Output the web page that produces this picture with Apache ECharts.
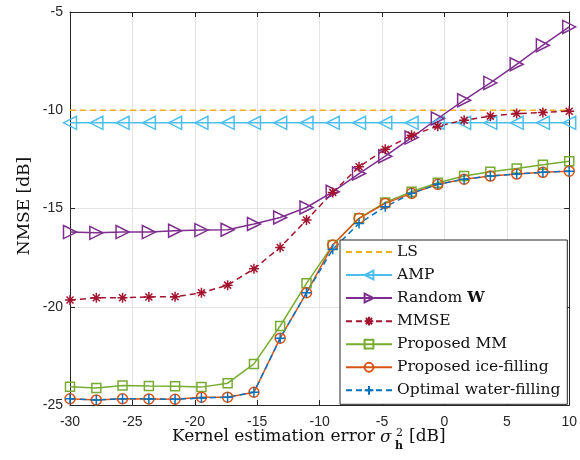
<!DOCTYPE html>
<html>
<head>
<meta charset="utf-8">
<script src="https://cdn.jsdelivr.net/npm/echarts@6/dist/echarts.min.js"></script>
<style>
  html, body { margin: 0; padding: 0; background: #fff; }
  #chart { width: 580px; height: 460px; }
</style>
</head>
<body>
<div id="chart"></div>
<script>
// kernel estimation error (dB), 20 points
const xValues = [-30, -27.89, -25.79, -23.68, -21.58, -19.47, -17.37, -15.26, -13.16, -11.05,
  -8.95, -6.84, -4.74, -2.63, -0.53, 1.58, 3.68, 5.79, 7.89, 10];

const lsVals = [-10, -10, -10, -10, -10, -10, -10, -10, -10, -10,
  -10, -10, -10, -10, -10, -10, -10, -10, -10, -10];
const ampVals = [-10.64, -10.64, -10.64, -10.64, -10.64, -10.64, -10.64, -10.64, -10.64, -10.64,
  -10.64, -10.64, -10.64, -10.64, -10.64, -10.64, -10.64, -10.64, -10.64, -10.64];
const randomWVals = [-16.2, -16.24, -16.2, -16.2, -16.13, -16.1, -16.08, -15.79, -15.46, -14.95,
  -14.15, -13.22, -12.34, -11.39, -10.42, -9.49, -8.61, -7.66, -6.69, -5.76];
const mmseVals = [-19.66, -19.54, -19.54, -19.5, -19.49, -19.29, -18.9, -18.07, -16.98, -15.59,
  -14.18, -12.88, -11.98, -11.27, -10.81, -10.51, -10.3, -10.17, -10.11, -10.05];
const mmVals = [-24.07, -24.13, -24.01, -24.03, -24.04, -24.09, -23.89, -22.91, -20.98, -18.81,
  -16.86, -15.5, -14.69, -14.15, -13.69, -13.35, -13.13, -12.96, -12.77, -12.59];
const iceVals = [-24.68, -24.74, -24.68, -24.69, -24.71, -24.6, -24.6, -24.35, -21.6, -19.29,
  -16.86, -15.5, -14.74, -14.23, -13.77, -13.51, -13.35, -13.25, -13.16, -13.1];
const waterVals = [-24.68, -24.74, -24.68, -24.69, -24.71, -24.65, -24.6, -24.35, -21.6, -19.29,
  -17.08, -15.76, -14.91, -14.23, -13.77, -13.51, -13.35, -13.25, -13.16, -13.1];

const xTicks = [-30, 10, 5];   // min, max, step
const yTicks = [-25, -5, 5];

const axisCol = '#262626';
const serif = 'DejaVu Serif';
const sans = 'Liberation Sans';

const PLUS = 'path://M0,-1L0,1M-1,0L1,0';
const STAR = 'path://M0,-1L0,1M-1,0L1,0M-0.7,-0.7L0.7,0.7M-0.7,0.7L0.7,-0.7';

function pairs(ys) {
  return xValues.map((x, i) => [x, ys[i]]);
}

function mkSeries(name, ys, color, opts) {
  return {
    name: name,
    type: 'line',
    data: pairs(ys),
    symbol: opts.symbol || 'none',
    symbolSize: opts.size || 10,
    symbolRotate: opts.rotate || 0,
    showSymbol: !!opts.symbol,
    lineStyle: { color: color, width: 1.5, type: opts.dash ? [6, 4] : 'solid' },
    itemStyle: { color: 'rgba(255,255,255,0)', borderColor: color, borderWidth: 1.5 },
    emphasis: { disabled: true },
    animation: false
  };
}

const chart = echarts.init(document.getElementById('chart'));

const noMark = { color: 'rgba(0,0,0,0)', borderColor: 'rgba(0,0,0,0)', borderWidth: 0 };

const option = {
  animation: false,
  grid: { left: 70, right: 10, top: 12, bottom: 55 },
  legend: {
    orient: 'vertical',
    left: 340,
    top: 240,
    itemWidth: 46,
    itemHeight: 11,
    itemGap: 7.05,
    padding: [4, 7, 6, 5],
    borderColor: axisCol,
    borderWidth: 1,
    backgroundColor: '#fff',
    textStyle: {
      fontFamily: serif, fontSize: 15.5, color: '#111', lineHeight: 15.5,
      rich: { b: { fontFamily: serif, fontSize: 15.5, fontWeight: 'bold', color: '#111', lineHeight: 15.5 } }
    },
    formatter: function (n) { return n === 'Random W' ? 'Random {b|W}' : n; },
    data: [{ name: 'LS', itemStyle: noMark }, 'AMP', 'Random W', 'MMSE', 'Proposed MM',
      'Proposed ice-filling', 'Optimal water-filling']
  },
  xAxis: [{
    type: 'value', min: xTicks[0], max: xTicks[1], interval: xTicks[2], position: 'bottom',
    axisLine: { show: true, onZero: false, lineStyle: { color: axisCol, width: 1 } },
    axisTick: { show: true, inside: true, length: 5, lineStyle: { color: axisCol } },
    axisLabel: { color: axisCol, fontFamily: sans, fontSize: 14, margin: 10 },
    splitLine: { show: true, lineStyle: { color: '#e3e3e3', width: 1 } }
  }, {
    type: 'value', min: xTicks[0], max: xTicks[1], interval: xTicks[2], position: 'top',
    axisLine: { show: true, onZero: false, lineStyle: { color: axisCol, width: 1 } },
    axisTick: { show: true, inside: true, length: 5, lineStyle: { color: axisCol } },
    axisLabel: { show: false },
    splitLine: { show: false }
  }],
  yAxis: [{
    type: 'value', min: yTicks[0], max: yTicks[1], interval: yTicks[2], position: 'left',
    axisLine: { show: true, onZero: false, lineStyle: { color: axisCol, width: 1 } },
    axisTick: { show: true, inside: true, length: 5, lineStyle: { color: axisCol } },
    axisLabel: { color: axisCol, fontFamily: sans, fontSize: 14, margin: 7 },
    splitLine: { show: true, lineStyle: { color: '#e3e3e3', width: 1 } }
  }, {
    type: 'value', min: yTicks[0], max: yTicks[1], interval: yTicks[2], position: 'right',
    axisLine: { show: true, onZero: false, lineStyle: { color: axisCol, width: 1 } },
    axisTick: { show: true, inside: true, length: 5, lineStyle: { color: axisCol } },
    axisLabel: { show: false },
    splitLine: { show: false }
  }],
  graphic: [
    { type: 'text', x: 25, y: 206, rotation: Math.PI / 2,
      style: { text: 'NMSE [dB]', fontFamily: serif, fontSize: 17, fill: '#111', align: 'center', verticalAlign: 'middle' } },
    { type: 'text', x: 172, y: 437,
      style: { text: 'Kernel estimation error', fontFamily: serif, fontSize: 17, fill: '#111', align: 'left', verticalAlign: 'middle' } },
    { type: 'text', x: 380, y: 438,
      style: { text: 'σ', fontFamily: serif, fontSize: 17, fontStyle: 'italic', fill: '#111', align: 'left', verticalAlign: 'middle' } },
    { type: 'text', x: 396, y: 433,
      style: { text: '2', fontFamily: serif, fontSize: 11, fill: '#111', align: 'left', verticalAlign: 'middle' } },
    { type: 'text', x: 395, y: 446,
      style: { text: 'h', fontFamily: serif, fontSize: 11, fontWeight: 'bold', fill: '#111', align: 'left', verticalAlign: 'middle' } },
    { type: 'text', x: 409, y: 437,
      style: { text: '[dB]', fontFamily: serif, fontSize: 17, fill: '#111', align: 'left', verticalAlign: 'middle' } }
  ],
  series: [
    mkSeries('LS', lsVals, '#EDB120', { dash: true }),
    mkSeries('AMP', ampVals, '#4DBEEE', { symbol: 'triangle', rotate: 90, size: 13 }),
    mkSeries('Random W', randomWVals, '#7E2F8E', { symbol: 'triangle', rotate: -90, size: 13 }),
    mkSeries('MMSE', mmseVals, '#A2142F', { symbol: STAR, size: 10, dash: true }),
    mkSeries('Proposed MM', mmVals, '#77AC30', { symbol: 'rect', size: 9 }),
    mkSeries('Proposed ice-filling', iceVals, '#D95319', { symbol: 'circle', size: 10 }),
    mkSeries('Optimal water-filling', waterVals, '#0072BD', { symbol: PLUS, size: 10, dash: true })
  ]
};

chart.setOption(option);
</script>
</body>
</html>
